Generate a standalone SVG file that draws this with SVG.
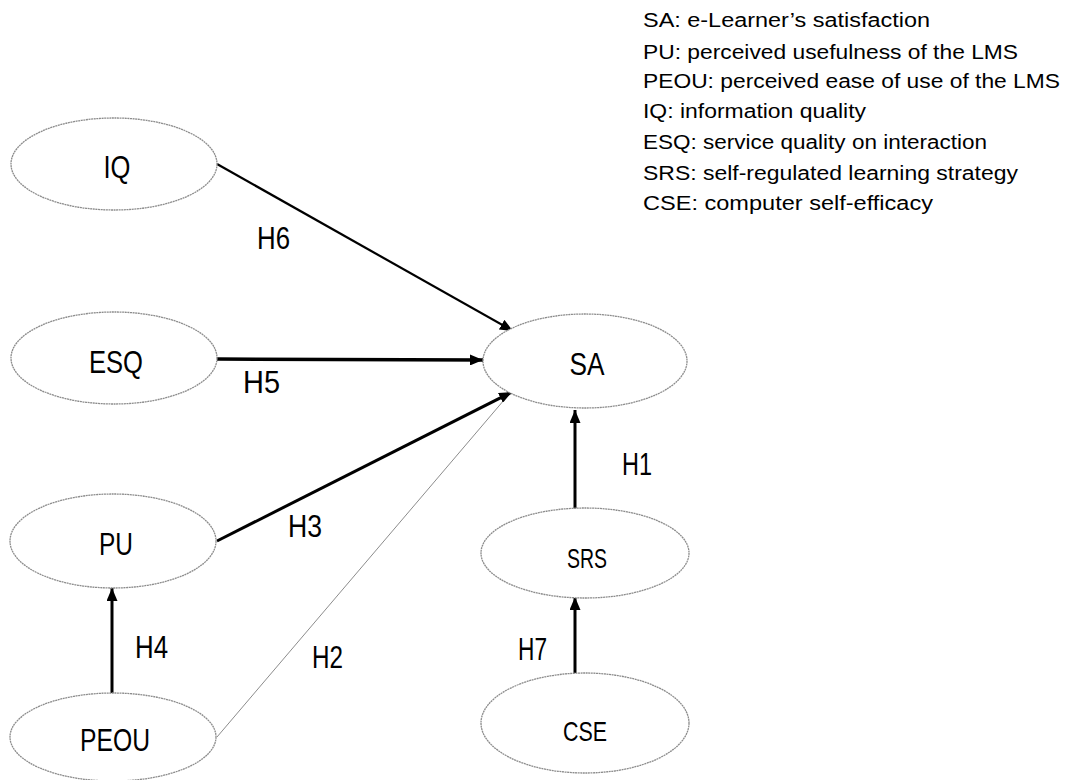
<svg xmlns="http://www.w3.org/2000/svg" width="1067" height="780" viewBox="0 0 1067 780">
<style>
.node ellipse{fill:#fff;stroke:#8c8c8c;stroke-width:1.3;stroke-dasharray:2 0.6}
.lbl{font-family:"Liberation Sans",Arial,sans-serif;font-size:32px;fill:#000;text-anchor:middle}
.sm{font-size:28px}
.h{font-family:"Liberation Sans",Arial,sans-serif;font-size:32px;fill:#000}
.leg{font-family:"Liberation Sans",Arial,sans-serif;font-size:20px;fill:#000}
.c{stroke:#000;fill:none}
</style>
<defs>
<marker id="ah" markerUnits="userSpaceOnUse" markerWidth="14" markerHeight="11" refX="13" refY="5.5" orient="auto">
<path d="M0,0 L13,5.5 L0,11 z" fill="#000"/>
</marker>
</defs>
<rect width="1067" height="780" fill="#fff"/>
<g id="connectors">
<line class="c" x1="217" y1="737" x2="510" y2="393" stroke="#8c8c8c" style="stroke:#8c8c8c" stroke-width="1"/>
<line class="c" x1="217" y1="164" x2="513" y2="331" stroke-width="2.2" marker-end="url(#ah)"/>
<line class="c" x1="217" y1="359" x2="483" y2="360" stroke-width="3.5" marker-end="url(#ah)"/>
<line class="c" x1="217" y1="541" x2="512" y2="392" stroke-width="3" marker-end="url(#ah)"/>
<line class="c" x1="112" y1="693" x2="112" y2="588" stroke-width="3" marker-end="url(#ah)"/>
<line class="c" x1="575" y1="510" x2="575" y2="410" stroke-width="3" marker-end="url(#ah)"/>
<line class="c" x1="575" y1="673" x2="575" y2="597" stroke-width="3" marker-end="url(#ah)"/>
</g>
<g id="edge-labels">
<text class="h" x="257" y="249" textLength="33" lengthAdjust="spacingAndGlyphs">H6</text>
<text class="h" x="243" y="393" textLength="37" lengthAdjust="spacingAndGlyphs">H5</text>
<text class="h" x="288" y="537" textLength="34" lengthAdjust="spacingAndGlyphs">H3</text>
<text class="h" x="135" y="658" textLength="33" lengthAdjust="spacingAndGlyphs">H4</text>
<text class="h" x="312" y="668" textLength="31" lengthAdjust="spacingAndGlyphs">H2</text>
<text class="h" x="518" y="660" textLength="29" lengthAdjust="spacingAndGlyphs">H7</text>
<text class="h" x="622" y="475" textLength="30" lengthAdjust="spacingAndGlyphs">H1</text>
</g>
<g id="node-IQ" class="node"><ellipse cx="114" cy="164" rx="103" ry="46"/><text class="lbl" x="117" y="178" textLength="27" lengthAdjust="spacingAndGlyphs">IQ</text></g>
<g id="node-ESQ" class="node"><ellipse cx="114" cy="358" rx="103" ry="46"/><text class="lbl" x="116" y="373" textLength="54" lengthAdjust="spacingAndGlyphs">ESQ</text></g>
<g id="node-PU" class="node"><ellipse cx="113" cy="541" rx="103" ry="47"/><text class="lbl" x="116" y="555" textLength="34" lengthAdjust="spacingAndGlyphs">PU</text></g>
<g id="node-PEOU" class="node"><ellipse cx="113" cy="737" rx="103" ry="44"/><text class="lbl" x="115" y="751" textLength="70" lengthAdjust="spacingAndGlyphs">PEOU</text></g>
<g id="node-SA" class="node"><ellipse cx="585" cy="361" rx="102" ry="47"/><text class="lbl" x="587" y="375" textLength="35" lengthAdjust="spacingAndGlyphs">SA</text></g>
<g id="node-SRS" class="node"><ellipse cx="585" cy="553" rx="104" ry="45"/><text class="lbl sm" x="587" y="568" textLength="40" lengthAdjust="spacingAndGlyphs">SRS</text></g>
<g id="node-CSE" class="node"><ellipse cx="585" cy="723" rx="104" ry="50"/><text class="lbl sm" x="585" y="741" textLength="44" lengthAdjust="spacingAndGlyphs">CSE</text></g>
<g id="legend">
<text class="leg" x="643" y="27" textLength="287" lengthAdjust="spacingAndGlyphs">SA: e-Learner’s satisfaction</text>
<text class="leg" x="643" y="59" textLength="375" lengthAdjust="spacingAndGlyphs">PU: perceived usefulness of the LMS</text>
<text class="leg" x="643" y="88" textLength="417" lengthAdjust="spacingAndGlyphs">PEOU: perceived ease of use of the LMS</text>
<text class="leg" x="643" y="118" textLength="223" lengthAdjust="spacingAndGlyphs">IQ: information quality</text>
<text class="leg" x="643" y="149" textLength="344" lengthAdjust="spacingAndGlyphs">ESQ: service quality on interaction</text>
<text class="leg" x="643" y="180" textLength="375" lengthAdjust="spacingAndGlyphs">SRS: self-regulated learning strategy</text>
<text class="leg" x="643" y="210" textLength="290" lengthAdjust="spacingAndGlyphs">CSE: computer self-efficacy</text>
</g>
</svg>
